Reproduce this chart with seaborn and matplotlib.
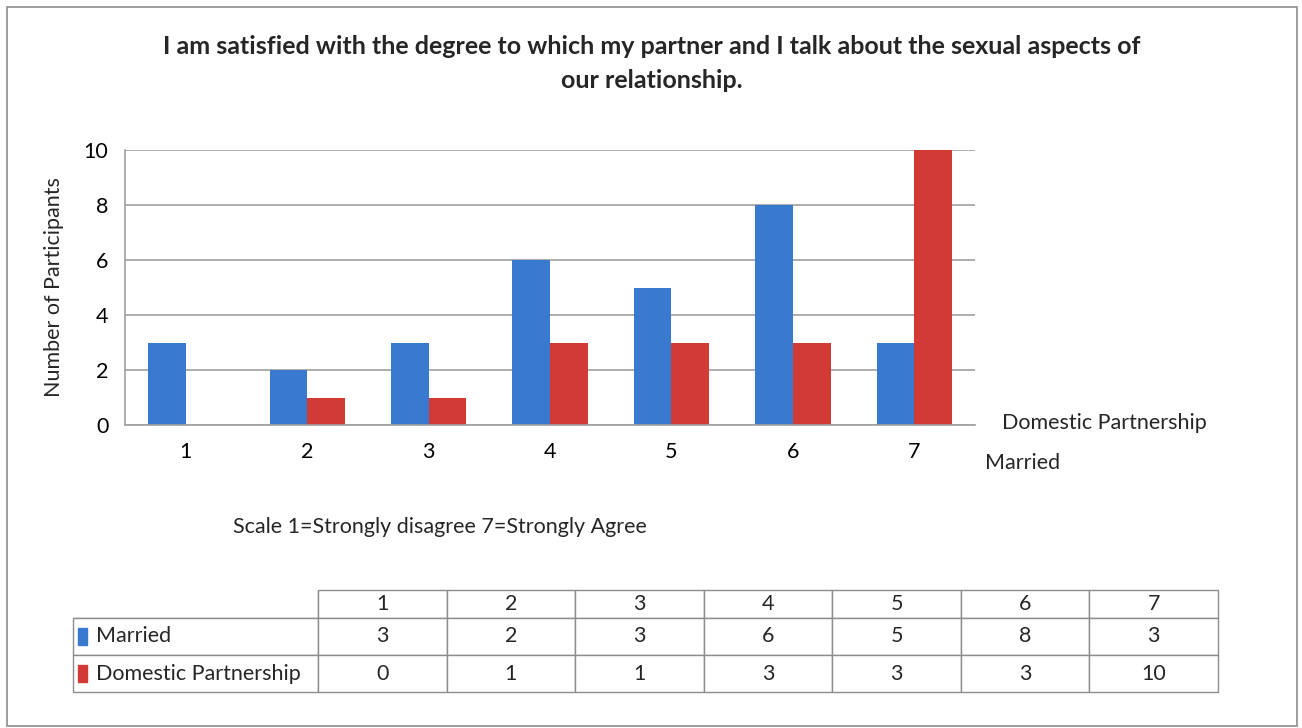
import pandas as pd
import matplotlib.pyplot as plt
import seaborn as sns
from matplotlib.patches import Rectangle

# Chart data
scale_points = ['1', '2', '3', '4', '5', '6', '7']
married = [3, 2, 3, 6, 5, 8, 3]
domestic = [0, 1, 1, 3, 3, 3, 10]
series_names = ['Married', 'Domestic Partnership']
y_ticks = [0, 2, 4, 6, 8, 10]

colors = {'Married': '#3A79D0', 'Domestic Partnership': '#D23A36'}

sns.set_theme(style="white")
plt.rcParams['font.family'] = ['Lato', 'DejaVu Sans']

df = pd.DataFrame({
    'Scale': scale_points * 2,
    'Count': married + domestic,
    'Group': [series_names[0]] * 7 + [series_names[1]] * 7,
})

fig = plt.figure(figsize=(13.02, 7.28), dpi=100)
W, H = 1302, 728
FS = 15.5

# outer chart border
fig.patches.append(Rectangle((7 / W, 1 - 726 / H), 1290 / W, 719 / H,
                             transform=fig.transFigure, fill=False,
                             edgecolor='#8c8c8c', linewidth=1.2))

fig.text(652 / W, 1 - 47 / H,
         'I am satisfied with the degree to which my partner and I talk about the sexual aspects of',
         ha='center', va='center', fontsize=18, fontweight='bold')
fig.text(652 / W, 1 - 80 / H, 'our relationship.',
         ha='center', va='center', fontsize=18, fontweight='bold')

# main bar axes
ax = fig.add_axes([125 / W, 1 - 425 / H, (975 - 125) / W, (425 - 150) / H])
sns.barplot(data=df, x='Scale', y='Count', hue='Group', hue_order=series_names,
            palette=colors, saturation=1, ax=ax, width=0.62, edgecolor='none',
            legend=False)
ax.set_ylim(0, 10)
ax.set_yticks(y_ticks)
ax.yaxis.grid(True, color='#a0a0a0', linewidth=1.2)
ax.set_axisbelow(True)
for side in ['top', 'right']:
    ax.spines[side].set_visible(False)
for side in ['left', 'bottom']:
    ax.spines[side].set_color('#a0a0a0')
    ax.spines[side].set_linewidth(1.2)
ax.tick_params(axis='both', labelsize=FS, colors='black', length=0, pad=12)
ax.set_ylabel('Number of Participants', fontsize=FS, labelpad=14)
ax.set_xlabel('')

fig.text(440 / W, 1 - 527 / H, 'Scale 1=Strongly disagree 7=Strongly Agree',
         ha='center', va='center', fontsize=FS)
fig.text(1002 / W, 1 - 423 / H, 'Domestic Partnership', ha='left', va='center', fontsize=FS)
fig.text(985 / W, 1 - 463 / H, 'Married', ha='left', va='center', fontsize=FS)

# data table
tax = fig.add_axes([73 / W, 1 - 692 / H, (1218 - 73) / W, 102 / H])
tax.axis('off')
cell_text = [[''] + scale_points,
             ['    ' + series_names[0]] + [str(v) for v in married],
             ['    ' + series_names[1]] + [str(v) for v in domestic]]
label_w = 245 / (1218 - 73)
col_w = (1 - label_w) / 7
tbl = tax.table(cellText=cell_text, cellLoc='center', bbox=[0, 0, 1, 1],
                colWidths=[label_w] + [col_w] * 7)
tbl.auto_set_font_size(False)
tbl.set_fontsize(FS)
row_h = [28 / 102, 37 / 102, 37 / 102]
for (r, c), cell in tbl.get_celld().items():
    cell.set_edgecolor('#8c8c8c')
    cell.set_linewidth(1.0)
    cell.set_height(row_h[r])
    if c == 0:
        cell.get_text().set_ha('left')
        cell._loc = 'left'
        cell.PAD = 0.005
    if r == 0 and c == 0:
        cell.visible_edges = 'BR'

# legend keys in the table
key_y = [1 - (28 + 37 / 2) / 102, 1 - (28 + 37 + 37 / 2) / 102]
for name, ky in zip(series_names, key_y):
    tax.add_patch(Rectangle((0.004, ky - 0.08), 0.008, 0.16,
                            transform=tax.transAxes, color=colors[name],
                            clip_on=False))

fig.savefig('out.png', dpi=100)
